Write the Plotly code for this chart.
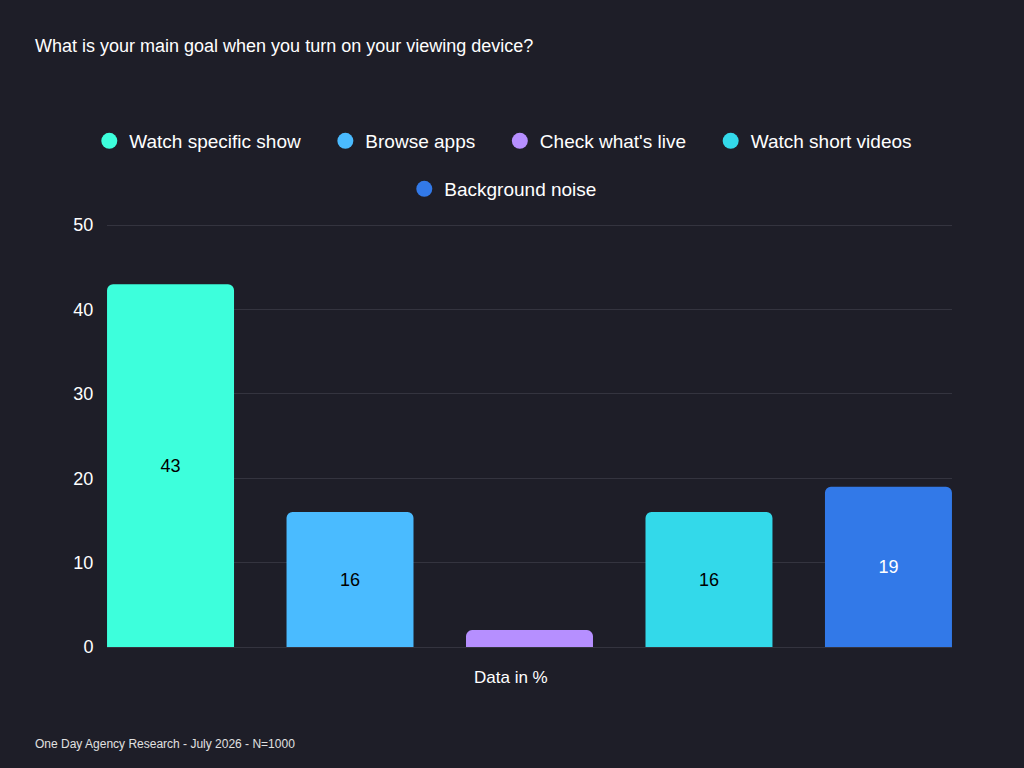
import plotly.graph_objects as go

title_text = "What is your main goal when you turn on your viewing device?"
categories = ["Watch specific show", "Browse apps", "Check what's live", "Watch short videos", "Background noise"]
values = [43, 16, 2, 16, 19]
colors = ["#3DFFDC", "#4ABBFF", "#B68FFF", "#33D9EA", "#3279E8"]
label_colors = ["#000000", "#000000", "#000000", "#000000", "#FFFFFF"]
y_ticks = [0, 10, 20, 30, 40, 50]
x_label = "Data in %"
footer = "One Day Agency Research - July 2026 - N=1000"

BG = "#1E1E28"
FONT = "Liberation Sans, Arial, Helvetica, sans-serif"
W, H = 1024, 768
L, R, T, B = 107, 72, 223, 121
PW, PH = W - L - R, H - T - B

fig = go.Figure()
fig.add_trace(go.Bar(
    x=categories, y=values, width=0.7075,
    marker=dict(color=colors, line=dict(width=0)),
    text=[str(v) for v in values], textposition="inside",
    insidetextanchor="middle", textangle=0,
    textfont=dict(color=label_colors, size=18, family=FONT),
    showlegend=False, hoverinfo="skip",
))

pad = "\u00a0" * 3 + "\u2009"
for i, (c, col) in enumerate(zip(categories, colors)):
    fig.add_trace(go.Scatter(
        x=[None], y=[None], mode="markers",
        marker=dict(size=18, color=col, symbol="circle"),
        name=c + (pad if i < 3 else ""),
        legend="legend" if i < 4 else "legend2",
        showlegend=True,
    ))

legend_common = dict(
    orientation="h", xref="container", yref="container",
    xanchor="center", yanchor="middle",
    font=dict(size=19, color="#FFFFFF", family=FONT),
    bgcolor="rgba(0,0,0,0)",
)

fig.update_layout(
    width=W, height=H,
    paper_bgcolor=BG, plot_bgcolor=BG,
    margin=dict(l=L, r=R, t=T, b=B, autoexpand=False),
    font=dict(family=FONT, color="#FFFFFF"),
    title=dict(text=title_text, x=35 / W, xref="container", xanchor="left",
               y=1 - 46 / H, yref="container", yanchor="middle",
               font=dict(size=18, color="#FFFFFF", family=FONT)),
    legend=dict(x=0.4915, y=1 - 141 / H, **legend_common),
    legend2=dict(x=0.4915, y=1 - 189 / H, **legend_common),
    uniformtext=dict(minsize=18, mode="hide"),
    xaxis=dict(range=[-0.354, 4.354], showticklabels=False, showgrid=False,
               zeroline=False, showline=False, fixedrange=True),
    yaxis=dict(range=[0, 50.25], tickvals=y_ticks, showgrid=True,
               gridcolor="#34343F", gridwidth=1, zeroline=True,
               zerolinecolor="#34343F", zerolinewidth=1,
               tickfont=dict(size=18, color="#FFFFFF", family=FONT),
               ticks="outside", ticklen=9, tickcolor="rgba(0,0,0,0)",
               showline=False),
    barcornerradius=6,
    annotations=[
        dict(text=x_label, xref="paper", yref="paper",
             x=(511 - L) / PW, y=(647 - 677) / PH,
             xanchor="center", yanchor="middle", showarrow=False,
             font=dict(size=17, color="#FFFFFF", family=FONT)),
        dict(text=footer, xref="paper", yref="paper",
             x=(33 - L) / PW, y=(647 - 744) / PH, xanchor="left", yanchor="middle",
             showarrow=False,
             font=dict(size=12, color="#E0E0E0", family=FONT)),
    ],
)

fig.write_html("out.html")
